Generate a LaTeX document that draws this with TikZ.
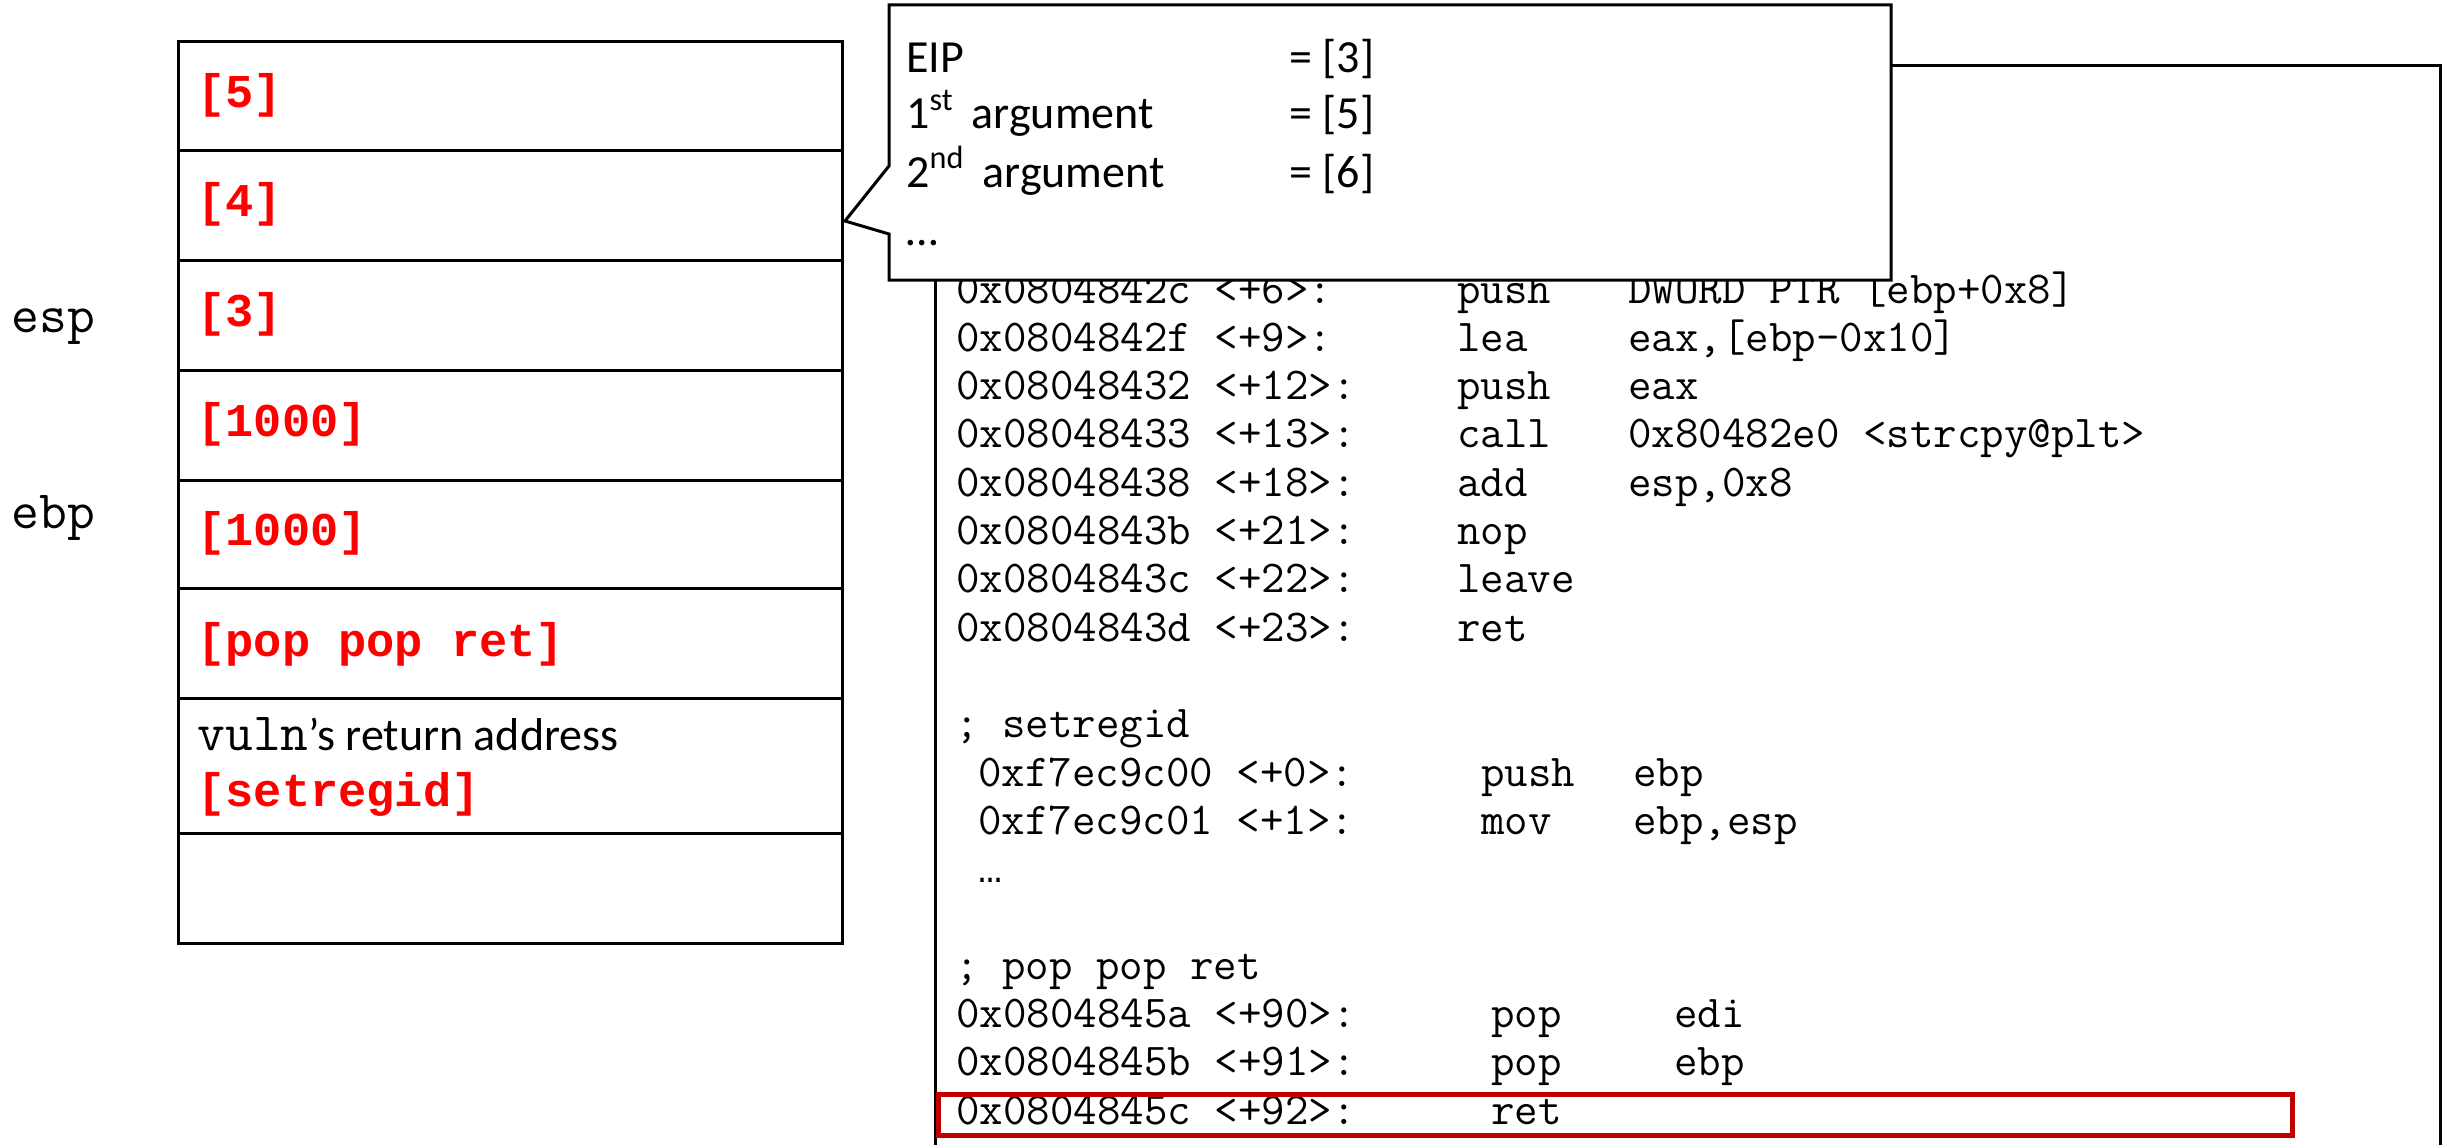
\documentclass[tikz,border=0pt]{standalone}
\usepackage{fontspec}
\setmainfont{Carlito}
\newfontfamily\monofont{Liberation Mono}
\definecolor{stackred}{RGB}{255,0,0}
\definecolor{boxred}{RGB}{192,0,0}
\begin{document}
\begin{tikzpicture}[x=0.5pt,y=-0.5pt,
  cell/.style={draw, line width=1.5pt, inner sep=0pt, anchor=north west,
    minimum width=332pt},
  redtxt/.style={anchor=west, inner sep=0pt, text=stackred,
    font=\monofont\bfseries\fontsize{23.5}{28}\selectfont},
  reglbl/.style={anchor=base west, inner sep=0pt,
    font=\ttfamily\fontsize{27}{32}\selectfont},
  code/.style={anchor=base west, inner sep=0pt,
    font=\ttfamily\fontsize{22.8}{27}\selectfont},
  note/.style={anchor=base west, inner sep=0pt,
    font=\fontsize{23}{28}\selectfont},
  hilite/.style={draw=boxred, line width=2.5pt, inner sep=0pt}]
\useasboundingbox (0,0) rectangle (2443,1145);

% disassembly frame (open at the bottom)
\draw[line width=1.5pt] (935,1150) -- (935,66) -- (2440,66) -- (2440,1150);

% vuln disassembly
\node[code] (a0) at (956,303)   {0x0804842c <+6>:};
\node[code] (m0) at (1457,303)  {push};
\node[code] (o0) at (1628,303)  {DWORD PTR [ebp+0x8]};
\node[code] (a1) at (956,351.3) {0x0804842f <+9>:};
\node[code] (m1) at (1457,351.3){lea};
\node[code] (o1) at (1628,351.3){eax,[ebp-0x10]};
\node[code] (a2) at (956,399.6) {0x08048432 <+12>:};
\node[code] (m2) at (1457,399.6){push};
\node[code] (o2) at (1628,399.6){eax};
\node[code] (a3) at (956,447.9) {0x08048433 <+13>:};
\node[code] (m3) at (1457,447.9){call};
\node[code] (o3) at (1628,447.9){0x80482e0 <strcpy@plt>};
\node[code] (a4) at (956,496.2) {0x08048438 <+18>:};
\node[code] (m4) at (1457,496.2){add};
\node[code] (o4) at (1628,496.2){esp,0x8};
\node[code] (a5) at (956,544.5) {0x0804843b <+21>:};
\node[code] (m5) at (1457,544.5){nop};
\node[code] (a6) at (956,592.8) {0x0804843c <+22>:};
\node[code] (m6) at (1457,592.8){leave};
\node[code] (a7) at (956,641.1) {0x0804843d <+23>:};
\node[code] (m7) at (1457,641.1){ret};

% setregid
\node[code] (s0) at (955,737.7)  {; setregid};
\node[code] (s1) at (978,786)    {0xf7ec9c00 <+0>:};
\node[code] (s1m) at (1481,786)  {push};
\node[code] (s1o) at (1633,786)  {ebp};
\node[code] (s2) at (978,834.3)  {0xf7ec9c01 <+1>:};
\node[code] (s2m) at (1481,834.3){mov};
\node[code] (s2o) at (1633,834.3){ebp,esp};
\node[code, font=\monofont\fontsize{20}{24}\selectfont] (s3) at (978,882.6) {…};

% pop pop ret gadget
\node[code] (p0) at (955,979.2)   {; pop pop ret};
\node[code] (p1) at (956,1027.5)  {0x0804845a <+90>:};
\node[code] (p1m) at (1491,1027.5){pop};
\node[code] (p1o) at (1674,1027.5){edi};
\node[code] (p2) at (956,1075.8)  {0x0804845b <+91>:};
\node[code] (p2m) at (1491,1075.8){pop};
\node[code] (p2o) at (1674,1075.8){ebp};
\node[code] (p3) at (956,1124.1)  {0x0804845c <+92>:};
\node[code] (p3m) at (1491,1124.1){ret};

% highlighted ret
\node[hilite, minimum width=677pt, minimum height=20.5pt] (hl) at (1615.5,1115) {};

% callout with the calling convention
\draw[line width=1.5pt, fill=white, line join=miter]
  (889,5) -- (1891,5) -- (1891,280) -- (889,280) -- (889,234)
  -- (845,221) -- (889,166) -- cycle;
\node[note] (n1) at (906,73)  {EIP};
\node[note] (n1v) at (1289,73) {= [3]};
\node[note] (n2) at (906,129) {1\textsuperscript{st}\, argument};
\node[note] (n2v) at (1289,129) {= [5]};
\node[note] (n3) at (906,187) {2\textsuperscript{nd}\, argument};
\node[note] (n3v) at (1289,187) {= [6]};
\node[note] (n4) at (906,245) {…};

% stack cells
\node[cell, minimum height=54.5pt] (c1) at (177,40)  {};
\node[cell, minimum height=55pt]   (c2) at (177,149) {};
\node[cell, minimum height=55pt]   (c3) at (177,259) {};
\node[cell, minimum height=55pt]   (c4) at (177,369) {};
\node[cell, minimum height=54pt]   (c5) at (177,479) {};
\node[cell, minimum height=55pt]   (c6) at (177,587) {};
\node[cell, minimum height=67.5pt] (c7) at (177,697) {};
\node[cell, minimum height=55pt]   (c8) at (177,832) {};

\node[redtxt] (t1) at (197,95)  {[5]};
\node[redtxt] (t2) at (197,204) {[4]};
\node[redtxt] (t3) at (197,314) {[3]};
\node[redtxt] (t4) at (197,424) {[1000]};
\node[redtxt] (t5) at (197,533) {[1000]};
\node[redtxt] (t6) at (197,644) {[pop pop ret]};
\node[note, font=\fontsize{23}{28}\selectfont] (t7) at (197,750)
  {{\ttfamily\fontsize{27}{32}\selectfont vuln}’s return address};
\node[redtxt, anchor=base west] (t8) at (197,806) {[setregid]};

% register labels
\node[reglbl] (esp) at (11,332) {esp};
\node[reglbl] (ebp) at (11,528) {ebp};
\end{tikzpicture}
\end{document}
